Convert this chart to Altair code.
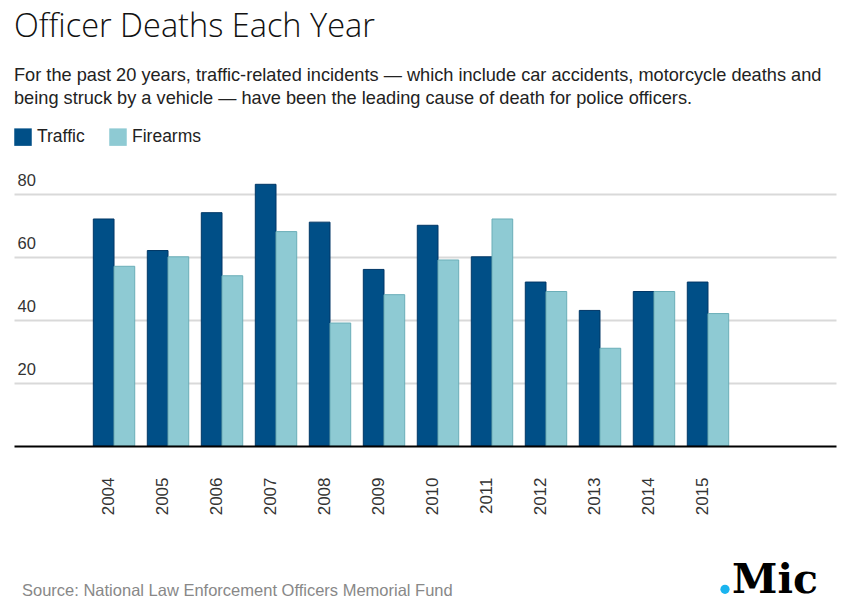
import altair as alt
import pandas as pd

years = ["2004", "2005", "2006", "2007", "2008", "2009", "2010", "2011", "2012", "2013", "2014", "2015"]
traffic = [72, 62, 74, 83, 71, 56, 70, 60, 52, 43, 49, 52]
firearms = [57, 60, 54, 68, 39, 48, 59, 72, 49, 31, 49, 42]
# empty category slots on either side of the plotted years (the chart keeps blank space there)
empty_slots_before = ["2003"]
empty_slots_after = ["2016"]
series = ["Traffic", "Firearms"]
fills = ["#004f87", "#8ecad3"]
strokes = ["#003766", "#6aaeb8"]
y_ticks = [20, 40, 60, 80]

title_text = "Officer Deaths Each Year"
subtitle_lines = [
    "For the past 20 years, traffic-related incidents \u2014 which include car accidents, motorcycle deaths and",
    "being struck by a vehicle \u2014 have been the leading cause of death for police officers.",
]
source_text = "Source: National Law Enforcement Officers Memorial Fund"
logo_text = "Mic"

rows = []
for i, yr in enumerate(years):
    rows.append({"year": yr, "cause": series[0], "deaths": traffic[i]})
    rows.append({"year": yr, "cause": series[1], "deaths": firearms[i]})
df = pd.DataFrame(rows)

FONT = "Liberation Sans"
x_domain = empty_slots_before + years + empty_slots_after

bars = alt.Chart(df).mark_bar(strokeWidth=1).encode(
    x=alt.X(
        "year:N",
        scale=alt.Scale(domain=x_domain, paddingInner=0.233, paddingOuter=0.728, align=0.322, round=False),
        axis=alt.Axis(title=None, values=years, labelAngle=270, labelFontSize=17, labelColor="#333",
                      labelPadding=31, ticks=False, tickSize=0, domainColor="#000", domainWidth=2,
                      labelOffset=-5, labelFont=FONT, zindex=1, grid=False),
    ),
    xOffset=alt.XOffset("cause:N", sort=series, scale=alt.Scale(domain=series, paddingInner=0, paddingOuter=0)),
    y=alt.Y(
        "deaths:Q",
        scale=alt.Scale(domain=[0, 85], nice=False),
        axis=alt.Axis(title=None, values=y_ticks, ticks=False, tickSize=0, domain=False,
                      labelAlign="left", labelPadding=-3, labelBaseline="alphabetic",
                      labelOffset=-8.5, grid=True, gridColor="#d9d9d9", gridWidth=2,
                      labelFontSize=16.5, labelColor="#333", labelFont=FONT),
    ),
    color=alt.Color(
        "cause:N", sort=series, scale=alt.Scale(domain=series, range=fills),
        legend=alt.Legend(title=None, orient="none", legendX=0, legendY=-50, direction="horizontal",
                          symbolType="square", symbolSize=306, symbolStrokeWidth=0,
                          symbolOpacity=1, labelFontSize=17.5, labelFont=FONT, labelColor="#222",
                          columnPadding=24, labelOffset=5, padding=0),
    ),
    stroke=alt.Stroke("cause:N", scale=alt.Scale(domain=series, range=strokes), legend=None),
)


def text_layer(text, x, y, size, color, font, weight="normal"):
    return alt.Chart(pd.DataFrame({"t": [text]})).mark_text(
        align="left", baseline="alphabetic", fontSize=size, font=font,
        fontWeight=weight, color=color
    ).encode(x=alt.value(x), y=alt.value(y), text="t:N")


title = text_layer(title_text, 0, -141.3, 32.5, "#111", "Open Sans", 300)
sub1 = text_layer(subtitle_lines[0], 0, -97.3, 18.2, "#222", FONT)
sub2 = text_layer(subtitle_lines[1], 0, -73.7, 18.2, "#222", FONT)
source = text_layer(source_text, 8, 418, 16.5, "#888", FONT)
logo = text_layer(logo_text, 718, 414.7, 41, "#000", "DejaVu Serif", "bold")
dot = alt.Chart(pd.DataFrame({"t": ["."]})).mark_circle(size=85, color="#1ab4ef", opacity=1).encode(
    x=alt.value(711), y=alt.value(411.3)
)

chart = alt.layer(bars, title, sub1, sub2, source, logo, dot).properties(
    width=822, height=268,
    autosize=alt.AutoSizeParams(type="none"),
    padding={"left": 14, "top": 178, "right": 9, "bottom": 168},
).configure_view(stroke=None)

chart.save("out.html", embed_options={"renderer": "svg", "actions": False})
